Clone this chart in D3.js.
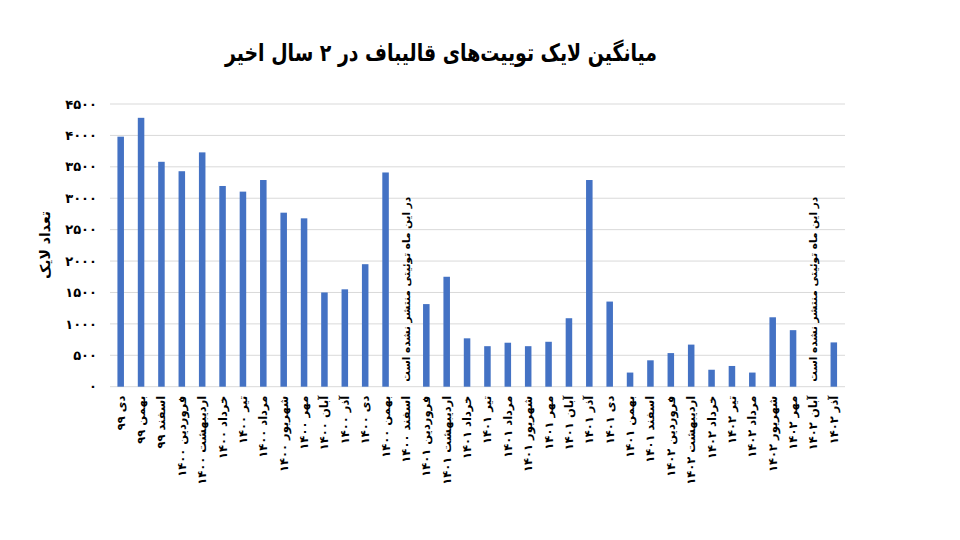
<!DOCTYPE html>
<html>
<head>
<meta charset="utf-8">
<script src="https://cdn.jsdelivr.net/npm/d3@7"></script>
<style>
  body { margin: 0; background: #fff; }
  svg text { font-family: "DejaVu Sans", sans-serif; font-weight: bold; fill: #000; }
</style>
</head>
<body>
<div id="chart"></div>
<script>
var months = [
  'دی ۹۹', 'بهمن ۹۹', 'اسفند ۹۹',
  'فروردین ۱۴۰۰', 'اردیبهشت ۱۴۰۰', 'خرداد ۱۴۰۰', 'تیر ۱۴۰۰', 'مرداد ۱۴۰۰', 'شهریور ۱۴۰۰',
  'مهر ۱۴۰۰', 'آبان ۱۴۰۰', 'آذر ۱۴۰۰', 'دی ۱۴۰۰', 'بهمن ۱۴۰۰', 'اسفند ۱۴۰۰',
  'فروردین ۱۴۰۱', 'اردیبهشت ۱۴۰۱', 'خرداد ۱۴۰۱', 'تیر ۱۴۰۱', 'مرداد ۱۴۰۱', 'شهریور ۱۴۰۱',
  'مهر ۱۴۰۱', 'آبان ۱۴۰۱', 'آذر ۱۴۰۱', 'دی ۱۴۰۱', 'بهمن ۱۴۰۱', 'اسفند ۱۴۰۱',
  'فروردین ۱۴۰۲', 'اردیبهشت ۱۴۰۲', 'خرداد ۱۴۰۲', 'تیر ۱۴۰۲', 'مرداد ۱۴۰۲', 'شهریور ۱۴۰۲',
  'مهر ۱۴۰۲', 'آبان ۱۴۰۲', 'آذر ۱۴۰۲'
];

// null = no tweet that month
var likes = [
  3980, 4280, 3580,
  3430, 3730, 3195, 3105, 3290, 2770,
  2680, 1500, 1550, 1950, 3410, null,
  1315, 1750, 770, 645, 700, 645,
  715, 1090, 3290, 1355, 225, 420,
  535, 670, 270, 330, 225, 1105,
  900, null, 705
];

var yTicks = [0, 500, 1000, 1500, 2000, 2500, 3000, 3500, 4000, 4500];

var titleText = 'میانگین لایک توییت‌های قالیباف در ۲ سال اخیر';
var yLabel = 'تعداد لایک';
var noTweetNote = 'در این ماه توئیتی منتشر نشده است';

var toFa = function(n){
    return String(n).replace(/\d/g, function(c){ return '۰۱۲۳۴۵۶۷۸۹'[+c]; });
};

var width = 960;
var height = 540;

var svg = d3.select('#chart')
            .append('svg')
            .attr('width', width)
            .attr('height', height);

var x = d3.scaleBand()
          .domain(months)
          .range([110.5, 844])
          .paddingInner(0.68)
          .paddingOuter(0.34);

var y = d3.scaleLinear()
          .domain([0, 4500])
          .range([386.7, 104]);

// grid
svg.append('g')
   .selectAll('line')
   .data(yTicks)
   .enter()
   .append('line')
   .attr('x1', 110)
   .attr('x2', 845)
   .attr('y1', function(d){ return y(d); })
   .attr('y2', function(d){ return y(d); })
   .style('stroke', '#d9d9d9')
   .style('stroke-width', 1);

// y axis labels
var yAxis = d3.axisLeft(y)
              .tickValues(yTicks)
              .tickSize(0)
              .tickPadding(0)
              .tickFormat(toFa);

var yg = svg.append('g')
            .attr('transform', 'translate(97,0)')
            .call(yAxis);
yg.select('.domain').remove();
yg.selectAll('text')
  .style('font-family', '"DejaVu Sans", sans-serif')
  .style('font-size', '13px')
  .style('font-weight', 'bold');

// bars
var barData = months.map(function(m, i){ return { month: m, value: likes[i] }; });

svg.append('g')
   .selectAll('rect')
   .data(barData.filter(function(d){ return d.value !== null; }))
   .enter()
   .append('rect')
   .attr('x', function(d){ return x(d.month); })
   .attr('width', x.bandwidth())
   .attr('y', function(d){ return y(d.value); })
   .attr('height', function(d){ return y(0) - y(d.value); })
   .style('fill', '#4472c4');

// x labels
var xAxis = d3.axisBottom(x).tickSize(0).tickPadding(0);
var xg = svg.append('g')
            .attr('transform', 'translate(0,' + y(0) + ')')
            .call(xAxis);
xg.select('.domain').remove();
xg.selectAll('text')
  .attr('transform', 'rotate(-90)')
  .attr('x', -9)
  .attr('y', 0)
  .attr('dy', '0.35em')
  .style('text-anchor', 'end')
  .style('font-family', '"DejaVu Sans", sans-serif')
  .style('font-size', '11.5px')
  .style('font-weight', 'bold');

// notes for empty months
svg.append('g')
   .selectAll('text')
   .data(barData.filter(function(d){ return d.value === null; }))
   .enter()
   .append('text')
   .attr('transform', function(d){
       return 'translate(' + (x(d.month) + x.bandwidth() / 2) + ',' + (y(0) - 5) + ') rotate(-90)';
   })
   .attr('dy', '0.35em')
   .style('text-anchor', 'start')
   .style('font-size', '10.5px')
   .text(noTweetNote);

// y title
svg.append('text')
   .attr('transform', 'translate(45,245) rotate(-90)')
   .attr('dy', '0.35em')
   .style('text-anchor', 'middle')
   .style('font-size', '14px')
   .text(yLabel);

// title
svg.append('text')
   .attr('x', 441)
   .attr('y', 61)
   .attr('textLength', 432)
   .attr('lengthAdjust', 'spacingAndGlyphs')
   .style('text-anchor', 'middle')
   .style('font-size', '24px')
   .text(titleText);
</script>
</body>
</html>
